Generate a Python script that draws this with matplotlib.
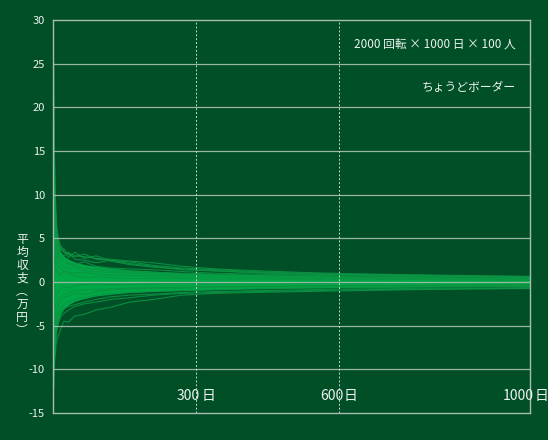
import matplotlib
matplotlib.use("Agg")
import matplotlib.pyplot as plt

plt.rcParams["font.family"] = ["Noto Sans CJK JP", "DejaVu Sans"]

BG = "#004f27"
FILL = "#00a846"
LINE = "#0c9443"
GRID = "#9db5a5"
TEXT = "#eef3ef"

# checkpoint days (x) and running-average values (万円)
days = [1, 3, 6, 10, 15, 22, 32, 45, 65, 90, 120, 160, 210, 270, 340, 420, 520, 620, 730, 850, 1000]

# dense core of the 100 players
core_upper = [24, 11, 6.0, 4.4, 3.5, 3.0, 2.6, 2.3, 2.0, 1.8, 1.6, 1.4, 1.25, 1.05, 0.95, 0.85, 0.75, 0.68, 0.62, 0.57, 0.52]
core_lower = [-11, -8, -5.8, -4.6, -3.7, -3.1, -2.6, -2.2, -1.9, -1.6, -1.4, -1.2, -1.05, -0.95, -0.85, -0.75, -0.68, -0.62, -0.57, -0.52, -0.5]

# individual players that stand out from the band
players = [
    [25, 11, 6.5, 5.2, 4.0, 3.4, 3.3, 3.0, 2.9, 2.7, 2.6, 2.4, 2.2, 1.8, 1.5, 1.3, 1.1, 0.95, 0.85, 0.75, 0.65],
    [18, 12, 7.0, 4.5, 3.6, 3.8, 3.1, 2.9, 3.2, 2.6, 2.5, 2.3, 1.9, 1.6, 1.4, 1.2, 1.0, 0.9, 0.8, 0.7, 0.6],
    [14, 8, 5.5, 4.8, 4.2, 3.5, 2.8, 3.4, 2.7, 3.0, 2.4, 2.0, 1.7, 1.5, 1.3, 1.1, 0.95, 0.85, 0.75, 0.65, 0.55],
    [10, 6, 4.5, 3.6, 3.3, 3.0, 3.4, 2.6, 2.5, 2.2, 2.5, 2.1, 1.8, 1.4, 1.25, 1.05, 0.9, 0.8, 0.7, 0.6, 0.5],
    [8, 7, 5.0, 3.0, 2.6, 2.8, 2.2, 2.0, 2.3, 1.8, 1.6, 1.5, 1.4, 1.2, 1.0, 0.9, 0.8, 0.7, 0.65, 0.6, 0.55],
    [12, 6, 4.0, 3.2, 2.8, 2.3, 2.0, 1.8, 1.6, 1.5, 1.3, 1.2, 1.1, 1.0, 0.9, 0.8, 0.75, 0.7, 0.65, 0.6, 0.55],
    [5, 4, 3.0, 2.5, 2.0, 1.8, 1.5, 1.6, 1.3, 1.2, 1.1, 1.0, 0.9, 0.85, 0.8, 0.7, 0.6, 0.55, 0.5, 0.45, 0.4],
    [6, 3, 2.2, 1.8, 1.5, 1.3, 1.1, 1.0, 1.1, 0.9, 0.8, 0.75, 0.7, 0.6, 0.55, 0.5, 0.45, 0.4, 0.38, 0.35, 0.3],
    [-3, 2, 1.5, 1.0, 0.8, 1.2, 0.9, 0.7, 0.5, 0.6, 0.5, 0.4, 0.45, 0.4, 0.3, 0.35, 0.3, 0.25, 0.3, 0.25, 0.2],
    [2, -1, -1.5, -1.2, -0.8, -0.5, -0.7, -0.4, -0.3, -0.2, -0.3, -0.25, -0.2, -0.15, -0.2, -0.1, -0.15, -0.1, -0.1, -0.05, -0.1],
    [-5, -3, -2.5, -2.0, -1.7, -1.5, -1.2, -1.0, -0.9, -0.85, -0.8, -0.7, -0.65, -0.6, -0.55, -0.5, -0.45, -0.4, -0.4, -0.35, -0.3],
    [-8, -5, -3.5, -2.8, -2.2, -1.8, -1.6, -1.3, -1.4, -1.1, -0.9, -0.8, -0.75, -0.7, -0.6, -0.55, -0.5, -0.45, -0.45, -0.4, -0.4],
    [-6, -7, -5.0, -3.8, -3.0, -2.6, -2.2, -2.0, -1.8, -1.5, -1.3, -1.2, -1.1, -1.0, -0.9, -0.8, -0.7, -0.65, -0.6, -0.55, -0.5],
    [-10, -8, -6.0, -4.5, -3.6, -3.0, -2.8, -2.6, -2.3, -2.0, -1.7, -1.5, -1.4, -1.2, -1.1, -1.0, -0.9, -0.8, -0.75, -0.7, -0.65],
    [-9, -6, -5.5, -4.8, -4.0, -3.6, -3.2, -2.8, -2.5, -2.3, -2.0, -1.8, -1.5, -1.3, -1.2, -1.1, -1.0, -0.9, -0.85, -0.8, -0.7],
    [-12, -9, -7.0, -6.2, -5.5, -4.5, -4.6, -3.9, -3.7, -3.2, -2.9, -2.3, -2.0, -1.5, -1.3, -1.2, -1.1, -1.0, -0.9, -0.8, -0.75],
]

y_ticks = [-15, -10, -5, 0, 5, 10, 15, 20, 25, 30]
x_marks = [300, 600, 1000]

fig = plt.figure(figsize=(5.48, 4.40), dpi=100)
fig.patch.set_facecolor(BG)
ax = fig.add_axes([0.0973, 0.0614, 0.8697, 0.8931])
ax.set_facecolor(BG)

ax.fill_between(days, core_lower, core_upper, color=FILL, lw=0, zorder=2)
for p in players:
    ax.plot(days, p, color=LINE, lw=0.8, alpha=0.9, zorder=2.5)

# grid on top of the band
for y in y_ticks[1:-1]:
    ax.axhline(y, color=GRID, lw=0.9, zorder=4)
for x in x_marks[:-1]:
    ax.axvline(x, color="#c8d6cc", lw=0.7, ls=(0, (2, 2)), zorder=4)

ax.set_xlim(0, 1000)
ax.set_ylim(-15, 30)
ax.set_yticks(y_ticks)
ax.set_yticklabels([str(v) for v in y_ticks], color=TEXT, fontsize=8)
ax.set_xticks([])
ax.tick_params(axis="y", length=0, pad=6)
for spine in ax.spines.values():
    spine.set_color("#a7bcae")
    spine.set_linewidth(1.0)
    spine.set_zorder(5)

for x in x_marks:
    ax.text(x + 8, -13.05, f"{x}", ha="right", va="center", color=TEXT, fontsize=10, zorder=6)
    ax.text(x + 10, -13.05, "日", ha="left", va="center", color=TEXT, fontsize=10, zorder=6, clip_on=False)

ax.text(970, 27.25, "2000 回転 × 1000 日 × 100 人", ha="right", va="center", color=TEXT, fontsize=8.5)
ax.text(970, 22.3, "ちょうどボーダー", ha="right", va="center", color=TEXT, fontsize=8.5)

fig.text(22 / 548, 1 - 285 / 440, "平\n均\n収\n支\n︵\n万\n円\n︶", ha="center", va="center",
         color=TEXT, fontsize=8.5, linespacing=1.0)

fig.savefig("out.png", dpi=100, facecolor=BG)
